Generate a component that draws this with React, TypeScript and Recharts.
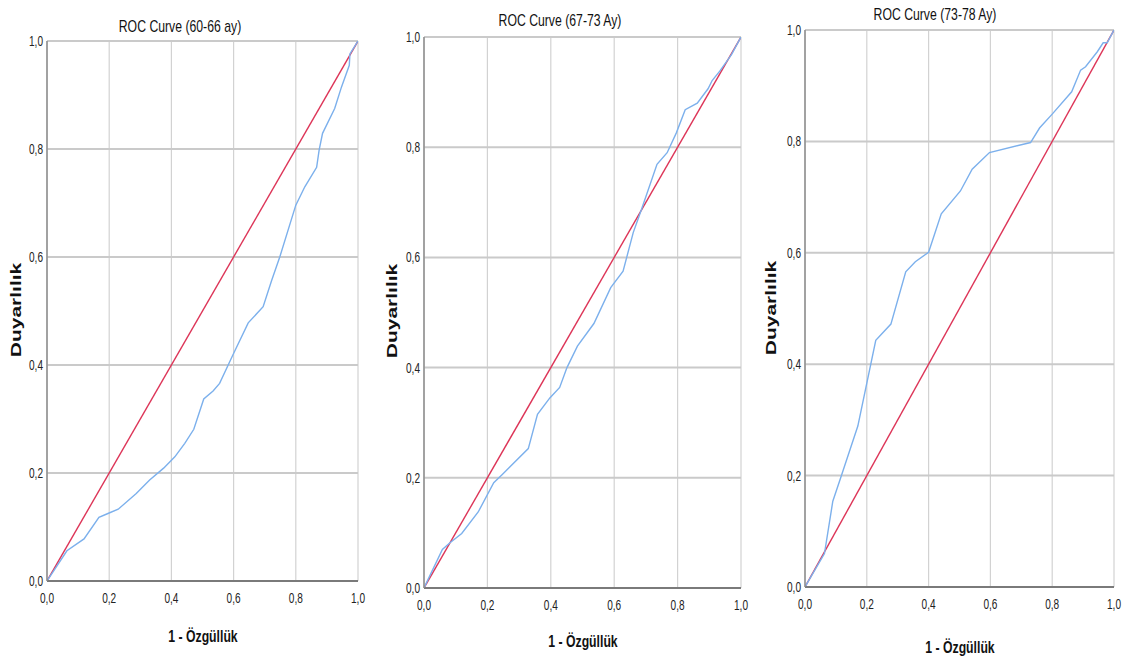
import React from 'react';
import { LineChart, Line, XAxis, YAxis, CartesianGrid } from 'recharts';

const tickValues = [0, 0.2, 0.4, 0.6, 0.8, 1];
const tickLabels = ['0,0', '0,2', '0,4', '0,6', '0,8', '1,0'];

const titles = ['ROC Curve (60-66 ay)', 'ROC Curve (67-73 Ay)', 'ROC Curve (73-78 Ay)'];
const xTitle = '1 - Özgüllük';
const yTitle = 'Duyarlılık';

const diagX = [0, 1];
const diagY = [0, 1];

const p1x = [0, 0.064, 0.119, 0.167, 0.196, 0.229, 0.287, 0.33, 0.375, 0.411, 0.443, 0.472, 0.504, 0.534, 0.555, 0.598, 0.647, 0.695, 0.722, 0.749, 0.8, 0.829, 0.867, 0.875, 0.886, 0.925, 0.947, 0.972, 0.974, 1.0];
const p1y = [0, 0.056, 0.078, 0.118, 0.125, 0.133, 0.162, 0.187, 0.209, 0.23, 0.255, 0.281, 0.337, 0.352, 0.366, 0.419, 0.478, 0.508, 0.556, 0.601, 0.696, 0.73, 0.766, 0.798, 0.829, 0.875, 0.915, 0.955, 0.976, 1.0];

const p2x = [0, 0.058, 0.082, 0.119, 0.171, 0.22, 0.247, 0.329, 0.358, 0.397, 0.428, 0.451, 0.484, 0.536, 0.589, 0.628, 0.66, 0.686, 0.735, 0.767, 0.796, 0.824, 0.862, 0.896, 0.909, 0.933, 0.97, 1.0];
const p2y = [0, 0.07, 0.082, 0.099, 0.138, 0.191, 0.206, 0.253, 0.315, 0.345, 0.364, 0.4, 0.439, 0.48, 0.545, 0.575, 0.645, 0.687, 0.769, 0.79, 0.826, 0.868, 0.88, 0.906, 0.921, 0.938, 0.968, 1.0];

const p3x = [0, 0.063, 0.09, 0.119, 0.171, 0.197, 0.229, 0.278, 0.326, 0.357, 0.4, 0.441, 0.503, 0.541, 0.597, 0.73, 0.759, 0.8, 0.863, 0.892, 0.908, 0.946, 0.965, 0.978, 1.0];
const p3y = [0, 0.06, 0.154, 0.202, 0.289, 0.358, 0.443, 0.472, 0.566, 0.584, 0.601, 0.67, 0.711, 0.75, 0.78, 0.798, 0.824, 0.849, 0.889, 0.928, 0.934, 0.961, 0.977, 0.977, 1.0];

const zip = (xs: number[], ys: number[]) => xs.map((x, i) => ({ x, y: ys[i] }));

const diagonal = zip(diagX, diagY);
const curves = [zip(p1x, p1y), zip(p2x, p2y), zip(p3x, p3y)];

const panels = [
  { left: 47, top: 41, w: 311, h: 540, titleX: 180, titleY: 26, xLabY: 636, yLabX: 15, yLabY: 310 },
  { left: 424, top: 37, w: 317, h: 551, titleX: 560, titleY: 20, xLabY: 641, yLabX: 391, yLabY: 311 },
  { left: 805, top: 30, w: 309, h: 557, titleX: 935, titleY: 14, xLabY: 647, yLabX: 770, yLabY: 308 },
];

const FONT = "'Liberation Sans', Arial, sans-serif";

const labelFor = (v: number) => {
  const i = tickValues.findIndex((t) => Math.abs(t - v) < 1e-9);
  return i >= 0 ? tickLabels[i] : String(v);
};

const XTick = (props: any) => {
  const { x, y, payload } = props;
  return (
    <g transform={`translate(${x},${y})`}>
      <text transform="scale(0.72,1)" textAnchor="middle" dy="0.71em" fontSize={14} fill="#222" fontFamily={FONT}>
        {labelFor(payload.value)}
      </text>
    </g>
  );
};

const YTick = (props: any) => {
  const { x, y, payload } = props;
  return (
    <g transform={`translate(${x},${y})`}>
      <text transform="scale(0.72,1)" textAnchor="end" dy="0.355em" fontSize={14} fill="#222" fontFamily={FONT}>
        {labelFor(payload.value)}
      </text>
    </g>
  );
};

const textBase: React.CSSProperties = {
  position: 'absolute',
  whiteSpace: 'nowrap',
  lineHeight: 1,
  fontFamily: FONT,
  color: '#111',
};

function Panel({ idx }: { idx: number }) {
  const p = panels[idx];
  const yAxisW = 40;
  const mTop = 10;
  const mRight = 10;
  const xAxisH = 30;
  return (
    <>
      <div style={{ position: 'absolute', left: p.left - yAxisW, top: p.top - mTop }}>
        <LineChart
          width={p.w + yAxisW + mRight}
          height={p.h + mTop + xAxisH}
          margin={{ top: mTop, right: mRight, left: 0, bottom: 0 }}
        >
          <CartesianGrid horizontal={false} vertical={true} stroke="#d2d2d2" strokeWidth={1.2} />
          <CartesianGrid horizontal={true} vertical={false} stroke="#cacaca" strokeWidth={2} />
          <XAxis
            type="number"
            dataKey="x"
            domain={[0, 1]}
            ticks={tickValues}
            allowDataOverflow
            height={xAxisH}
            tickLine={false}
            tickSize={4}
            tickMargin={8}
            axisLine={{ stroke: '#7a7a7a', strokeWidth: 2 }}
            tick={<XTick />}
            interval={0}
          />
          <YAxis
            type="number"
            domain={[0, 1]}
            ticks={tickValues}
            allowDataOverflow
            width={yAxisW}
            tickLine={false}
            tickSize={2}
            tickMargin={2}
            axisLine={{ stroke: '#8c8c8c', strokeWidth: 1.5 }}
            tick={<YTick />}
            interval={0}
          />
          <Line
            data={diagonal}
            dataKey="y"
            type="linear"
            stroke="#dd3558"
            strokeWidth={1.4}
            dot={false}
            activeDot={false}
            isAnimationActive={false}
          />
          <Line
            data={curves[idx]}
            dataKey="y"
            type="linear"
            stroke="#7cb0ec"
            strokeWidth={1.4}
            dot={false}
            activeDot={false}
            isAnimationActive={false}
          />
        </LineChart>
      </div>
      <div
        style={{
          ...textBase,
          left: p.titleX,
          top: p.titleY,
          fontSize: 17,
          transform: 'translate(-50%,-50%) scaleX(0.72)',
        }}
      >
        {titles[idx]}
      </div>
      <div
        style={{
          ...textBase,
          left: p.left + p.w / 2,
          top: p.xLabY,
          fontSize: 17,
          fontWeight: 'bold',
          transform: 'translate(-50%,-50%) scaleX(0.72)',
        }}
      >
        {xTitle}
      </div>
      <div
        style={{
          ...textBase,
          left: p.yLabX,
          top: p.yLabY,
          fontSize: 15,
          fontWeight: 'bold',
          transform: 'translate(-50%,-50%) rotate(-90deg) scale(1.4,1)',
        }}
      >
        {yTitle}
      </div>
    </>
  );
}

export default function App() {
  return (
    <div
      style={{
        position: 'absolute',
        left: 0,
        top: 0,
        width: 1127,
        height: 662,
        background: '#fff',
        overflow: 'hidden',
      }}
    >
      <Panel idx={0} />
      <Panel idx={1} />
      <Panel idx={2} />
    </div>
  );
}
